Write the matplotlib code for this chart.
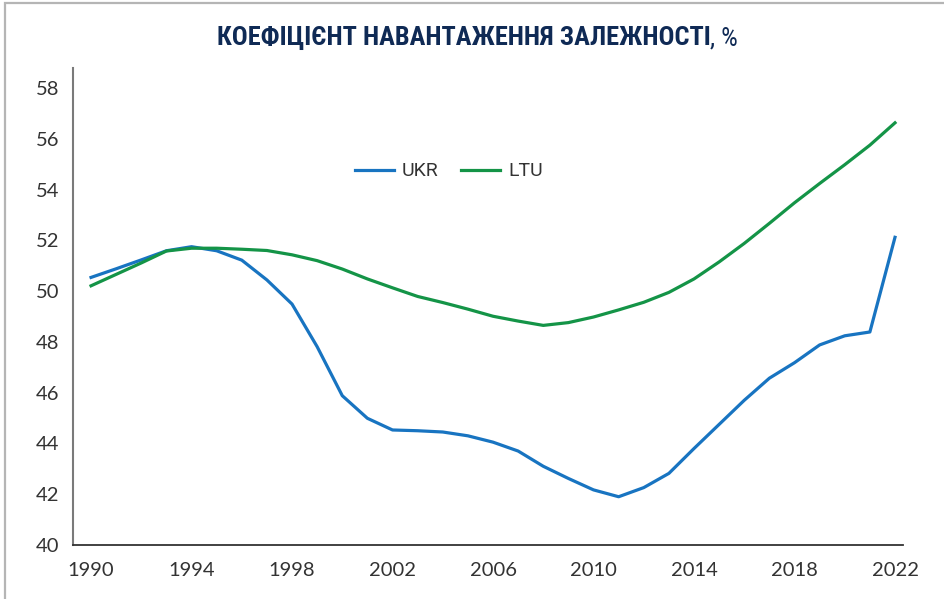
import matplotlib
matplotlib.use("Agg")
import matplotlib.pyplot as plt
from matplotlib.patches import Rectangle
from matplotlib import font_manager

years = list(range(1990, 2023))
ukr = [50.54, 50.88, 51.23, 51.59, 51.75, 51.59, 51.22, 50.44, 49.49, 47.81,
       45.88, 44.99, 44.53, 44.50, 44.45, 44.30, 44.05, 43.70, 43.10, 42.62,
       42.17, 41.90, 42.26, 42.82, 43.80, 44.75, 45.70, 46.57, 47.18, 47.88,
       48.24, 48.39, 52.12]
ltu = [50.21, 50.66, 51.11, 51.58, 51.69, 51.69, 51.65, 51.60, 51.43, 51.20,
       50.87, 50.48, 50.13, 49.79, 49.55, 49.29, 49.01, 48.82, 48.65, 48.76,
       48.98, 49.26, 49.56, 49.95, 50.48, 51.15, 51.88, 52.67, 53.48, 54.24,
       54.98, 55.75, 56.63]
xticks = list(range(1990, 2023, 4))
yticks = list(range(40, 59, 2))
labels = ["UKR", "LTU"]
colors = ["#1874c1", "#149447"]
title_bold = "КОЕФІЦІЄНТ НАВАНТАЖЕННЯ ЗАЛЕЖНОСТІ"

installed = {f.name for f in font_manager.fontManager.ttflist}
cands = ["Roboto Condensed", "Liberation Sans Narrow", "Open Sans Condensed",
         "Noto Sans Condensed", "DejaVu Sans Condensed", "Roboto"]
title_font = next((c for c in cands if c in installed), "DejaVu Sans")

fig = plt.figure(figsize=(9.45, 5.99), dpi=100)
ax = fig.add_axes([0.0772, 0.0902, 0.8784, 0.7963])

ax.plot(years, ukr, color=colors[0], lw=2.3, label=labels[0], solid_joinstyle="round")
ax.plot(years, ltu, color=colors[1], lw=2.3, label=labels[1], solid_joinstyle="round")

ax.set_xlim(1989.28, 2022.32)
ax.set_ylim(40, 58.79)
ax.set_xticks(xticks)
ax.set_yticks(yticks)
tick_font = dict(family="Lato", size=14.5, color="#333333")
ax.set_xticklabels([str(x) for x in xticks], **tick_font)
ax.set_yticklabels([str(y) for y in yticks], **tick_font)
ax.tick_params(axis="both", length=0)
ax.tick_params(axis="y", pad=10)
ax.tick_params(axis="x", pad=12)
for s in ["top", "right"]:
    ax.spines[s].set_visible(False)
ax.spines["left"].set_color("#7a7a7a")
ax.spines["left"].set_linewidth(1.5)
ax.spines["bottom"].set_color("#333333")
ax.spines["bottom"].set_linewidth(1.3)

leg = ax.legend(loc="center", bbox_to_anchor=(0.453, 0.783), ncol=2, frameon=False,
                prop=dict(family="Roboto", size=14), handlelength=2.0,
                columnspacing=1.15, handletextpad=0.4)
for t in leg.get_texts():
    t.set_color("#333333")

# title
ty = 0.936
t1 = fig.text(0.5, ty, title_bold, ha="center", va="center",
              family=title_font, fontweight="bold", size=19, color="#0f2a55")
fig.canvas.draw()
bb = t1.get_window_extent()
t2 = fig.text(bb.x1 / fig.bbox.width, ty, ", %", ha="left", va="center",
              family=title_font, size=19, color="#0f2a55")
# centre the combined title
fig.canvas.draw()
total = t2.get_window_extent().x1 - bb.x0
shift = (fig.bbox.width / 2 - total / 2 - bb.x0 + 5) / fig.bbox.width
t1.set_x(0.5 + shift)
t2.set_x(bb.x1 / fig.bbox.width + shift)

# outer frame (cropped on right and bottom)
fig.patches.append(Rectangle((5.5 / 945, -0.1), 1.2, 1.1 - 3.5 / 599, transform=fig.transFigure,
                             fill=False, edgecolor="#b5b5b5", lw=1.6))

fig.savefig("out.png", dpi=100)
